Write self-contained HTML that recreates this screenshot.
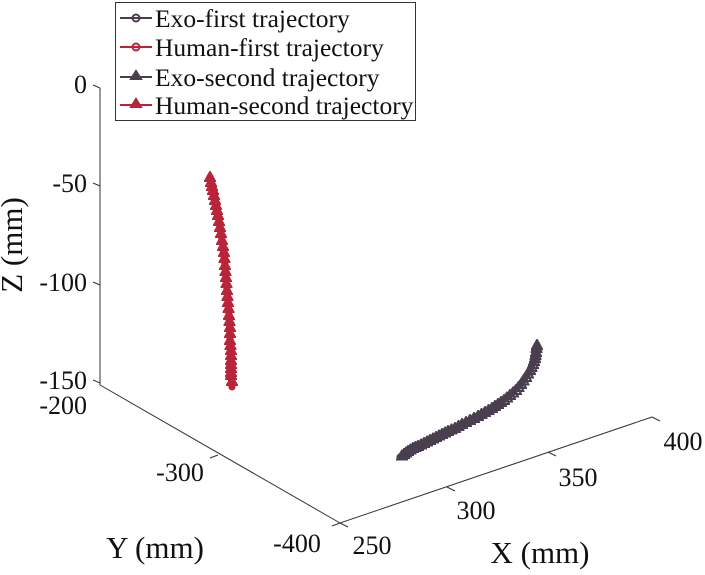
<!DOCTYPE html>
<html><head><style>
body{margin:0;background:#fff}
svg text{font-family:"Liberation Serif",serif;fill:#111}
</style></head><body>
<svg width="705" height="570" viewBox="0 0 705 570" xmlns="http://www.w3.org/2000/svg">
<defs>
<marker id="tr" viewBox="-6 -6 12 12" markerWidth="12" markerHeight="12" refX="0" refY="0" markerUnits="userSpaceOnUse"><path d="M0,-5 L5,4 L-5,4Z" fill="none" stroke="#b8253a" stroke-width="2"/></marker>
<marker id="td" viewBox="-6 -6 12 12" markerWidth="12" markerHeight="12" refX="0" refY="0" markerUnits="userSpaceOnUse"><path d="M0,-5 L5,4 L-5,4Z" fill="none" stroke="#4a3f4e" stroke-width="2"/></marker>
</defs>
<g stroke="#333" stroke-width="1" fill="none">
<path d="M100,88 V385 L340,523 L652,417"/>
<path d="M100,88 l-7,-3 M100,186 l-7,-3 M100,285 l-7,-3 M100,383 l-7,-3"/>
<path d="M218,455 l-8,3 M340,523 l-8,3"/>
<path d="M340,523 l8,4 M447,487 l8,4 M548,452 l8,4 M652,417 l8,4"/>
</g>
<g font-size="26" text-anchor="end">
<text x="87" y="93">0</text>
<text x="87" y="192">-50</text>
<text x="87" y="291">-100</text>
<text x="87" y="389">-150</text>
<text x="87" y="414">-200</text>
</g>
<g font-size="26" text-anchor="middle">
<text x="180" y="481">-300</text>
<text x="297" y="552">-400</text>
<text x="372" y="554">250</text>
<text x="476" y="519">300</text>
<text x="578" y="486">350</text>
<text x="683" y="450">400</text>
</g>
<g font-size="31" text-anchor="middle">
<text transform="translate(22,245) rotate(-90)">Z (mm)</text>
<text x="155" y="558">Y (mm)</text>
<text x="540" y="563">X (mm)</text>
</g>
<path d="M210,177 L214,195 L218,215 L222,240 L225,265 L227,290 L229,315 L230,340 L231,360 L231,375 L232,387" fill="none" stroke="#b8253a" stroke-width="7" stroke-linecap="round"/>
<path d="M210,177 L211,182 L212,186 L213,190 L214,195 L215,200 L216,205 L217,210 L218,215 L219,221 L220,227 L221,233 L222,240 L223,246 L224,252 L224.5,258 L225,265 L225.5,271 L226,277 L226.5,283 L227,290 L227.5,296 L228,302 L228.5,308 L229,315 L229.5,321 L230,327 L230,333 L230,340 L230.5,345 L231,350 L231,355 L231,360 L231,364 L231,368 L231,372 L231,375 L232,381 L232,387" fill="none" stroke="#b8253a" stroke-width="2" marker-mid="url(#tr)" marker-start="url(#tr)"/>
<path d="M537,345 L535,358 L530,370 L521,384 L510,395 L498,404 L485,412 L470,420 L455,428 L442,434 L430,440 L418,446 L408,451 L400,457" fill="none" stroke="#4a3f4e" stroke-width="7" stroke-linecap="round"/>
<path d="M537,345 L536.5,348 L536,352 L535.5,355 L535,358 L534,361 L533,364 L531.5,367 L530,370 L528,373.5 L526,377 L523.5,380.5 L521,384 L518.5,387 L516,390 L513,392.5 L510,395 L507,397.5 L504,400 L501,402 L498,404 L495,406 L492,408 L488.5,410 L485,412 L481.5,414 L478,416 L474,418 L470,420 L466,422 L462,424 L458.5,426 L455,428 L451.5,429.5 L448,431 L445,432.5 L442,434 L439,435.5 L436,437 L433,438.5 L430,440 L427,441.5 L424,443 L421,444.5 L418,446 L415.5,447 L413,448 L410.5,449.5 L408,451 L406,452.5 L404,454 L402,455.5 L400,457" fill="none" stroke="#4a3f4e" stroke-width="2" marker-mid="url(#td)" marker-start="url(#td)"/>
<rect x="115.5" y="2.5" width="300" height="118" fill="#fff" stroke="#333" stroke-width="1"/>
<g stroke-width="2" fill="none">
<path d="M120,18 H152" stroke="#4a3f4e"/><circle cx="136" cy="18" r="3.5" stroke="#4a3f4e"/>
<path d="M120,47 H152" stroke="#b8253a"/><circle cx="136" cy="47" r="3.5" stroke="#b8253a"/>
<path d="M120,77 H152" stroke="#4a3f4e"/><path d="M136,71 L141,79 L131,79Z" fill="#4a3f4e" stroke="#4a3f4e"/>
<path d="M120,105 H152" stroke="#b8253a"/><path d="M136,99 L141,107 L131,107Z" fill="#b8253a" stroke="#b8253a"/>
</g>
<g font-size="25.5">
<text x="155" y="27">Exo-first trajectory</text>
<text x="155" y="56">Human-first trajectory</text>
<text x="155" y="86">Exo-second trajectory</text>
<text x="155" y="114">Human-second trajectory</text>
</g>
</svg>
</body></html>
